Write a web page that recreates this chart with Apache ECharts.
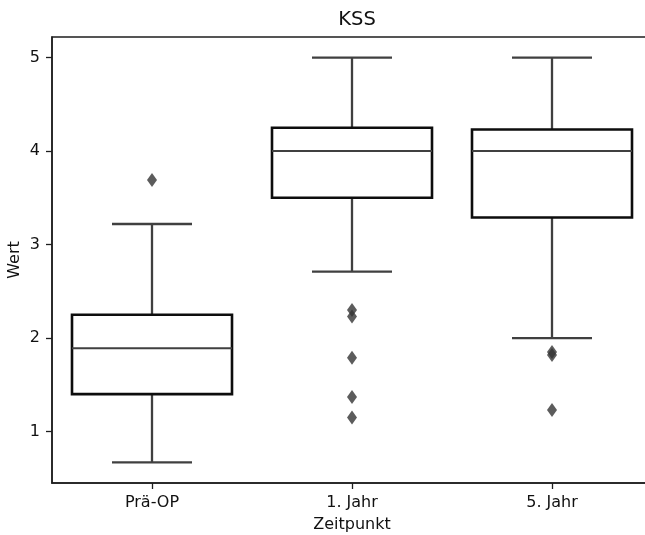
<!DOCTYPE html>
<html>
<head>
<meta charset="utf-8">
<style>
  html, body { margin: 0; padding: 0; background: #ffffff; }
  #chart { width: 645px; height: 535px; }
</style>
<script src="https://cdn.jsdelivr.net/npm/echarts@6/dist/echarts.min.js"></script>
</head>
<body>
<div id="chart"></div>
<script>
// KSS score per time point: five-number summary and outliers
const categories = ['Prä-OP', '1. Jahr', '5. Jahr'];
const lowWhisker = [0.67, 2.71, 2.00];
const q1 = [1.40, 3.50, 3.29];
const median = [1.89, 4.00, 4.00];
const q3 = [2.25, 4.25, 4.23];
const highWhisker = [3.22, 5.00, 5.00];
const outliers = [
  [0, 3.69],
  [1, 2.30], [1, 2.23], [1, 1.79], [1, 1.37], [1, 1.15],
  [2, 1.85], [2, 1.82], [2, 1.23]
];
const yTicks = [1, 2, 3, 4, 5];

const boxRows = categories.map((c, i) =>
  [i, lowWhisker[i], q1[i], median[i], q3[i], highWhisker[i]]);

const FONT = 'DejaVu Sans';
const INK = '#1e1e1e';
const WHISKER = '#404040';

function renderBox(params, api) {
  const i = api.value(0);
  const pLow = api.coord([i, api.value(1)]);
  const pQ1 = api.coord([i, api.value(2)]);
  const pMed = api.coord([i, api.value(3)]);
  const pQ3 = api.coord([i, api.value(4)]);
  const pHigh = api.coord([i, api.value(5)]);
  const band = api.size([1, 0])[0];
  const boxW = band * 0.8;
  const capW = boxW / 2;
  const cx = pQ1[0];
  const lineStyle = { stroke: WHISKER, lineWidth: 2.3 };
  return {
    type: 'group',
    children: [
      { type: 'line', shape: { x1: cx, y1: pLow[1], x2: cx, y2: pQ1[1] }, style: lineStyle },
      { type: 'line', shape: { x1: cx, y1: pQ3[1], x2: cx, y2: pHigh[1] }, style: lineStyle },
      { type: 'line', shape: { x1: cx - capW / 2, y1: pLow[1], x2: cx + capW / 2, y2: pLow[1] }, style: lineStyle },
      { type: 'line', shape: { x1: cx - capW / 2, y1: pHigh[1], x2: cx + capW / 2, y2: pHigh[1] }, style: lineStyle },
      {
        type: 'rect',
        shape: { x: cx - boxW / 2, y: pQ3[1], width: boxW, height: pQ1[1] - pQ3[1] },
        style: { fill: '#ffffff', stroke: '#0d0d0d', lineWidth: 2.6 }
      },
      { type: 'line', shape: { x1: cx - boxW / 2, y1: pMed[1], x2: cx + boxW / 2, y2: pMed[1] },
        style: { stroke: WHISKER, lineWidth: 2 } }
    ]
  };
}

const chart = echarts.init(document.getElementById('chart'), null, { renderer: 'canvas' });
chart.setOption({
  backgroundColor: '#ffffff',
  animation: false,
  title: {
    text: 'KSS',
    left: 352,
    textAlign: 'center',
    top: 5,
    textStyle: { fontFamily: FONT, fontSize: 19.5, fontWeight: 'normal', color: '#111111' }
  },
  grid: {
    left: 52, top: 37, width: 600, height: 446,
    outerBoundsMode: 'none',
    containLabel: false,
    show: true, borderColor: INK, borderWidth: 1.5, backgroundColor: 'transparent'
  },
  xAxis: {
    type: 'category',
    data: categories,
    boundaryGap: true,
    name: 'Zeitpunkt',
    nameLocation: 'middle',
    nameGap: 34,
    nameMoveOverlap: false,
    nameTextStyle: { fontFamily: FONT, fontSize: 16, color: '#111111' },
    axisLine: { show: true, lineStyle: { color: INK, width: 1.5 } },
    axisTick: { show: true, alignWithLabel: true, length: 6, lineStyle: { color: INK, width: 1.3 } },
    axisLabel: { fontFamily: FONT, fontSize: 16, color: '#111111', margin: 12 },
    splitLine: { show: false }
  },
  yAxis: {
    type: 'value',
    min: 0.45,
    max: 5.22,
    name: 'Wert',
    nameLocation: 'middle',
    nameGap: 29,
    nameMoveOverlap: false,
    nameTextStyle: { fontFamily: FONT, fontSize: 16, color: '#111111' },
    axisLine: { show: true, lineStyle: { color: INK, width: 1.5 } },
    axisTick: { show: true, length: 6, customValues: yTicks, lineStyle: { color: INK, width: 1.3 } },
    axisLabel: { fontFamily: FONT, fontSize: 16, color: '#111111', margin: 12, customValues: yTicks },
    splitLine: { show: false }
  },
  series: [
    {
      type: 'custom',
      renderItem: renderBox,
      data: boxRows,
      encode: { x: 0, y: [1, 2, 3, 4, 5] },
      z: 2
    },
    {
      type: 'scatter',
      data: outliers,
      symbol: 'diamond',
      symbolSize: [10, 14],
      itemStyle: { color: '#333333' },
      z: 3
    }
  ]
});
</script>
</body>
</html>
